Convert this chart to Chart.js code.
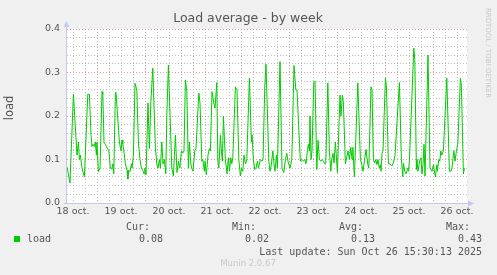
<!DOCTYPE html>
<html>
<head>
<meta charset="utf-8">
<script src="https://cdn.jsdelivr.net/npm/chart.js@4"></script>
<style>
    html, body { margin: 0; padding: 0; background: #f0f0f0; }
    canvas { display: block; }
</style>
</head>
<body>
<canvas id="loadChart" width="497" height="275"></canvas>
<script>
'use strict'

// Sample times, in hours since 18 oct 00:00.
const sampleHours = [
    9, 10.5, 12.2, 14, 14.7, 15.2, 15.7, 16.5, 17.7, 19.4, 20.2, 21, 21.5, 22, 22.7, 23.2, 23.7, 24, 24.7, 25.5,
    26.5, 26.9, 27.5, 28.2, 29, 29.9, 30.7, 31.4, 31.9, 32.4, 33.2, 33.5, 35.2, 36, 36.5, 36.9, 37.7, 38.2, 39, 39.4,
    39.9, 40.5, 41.2, 41.5, 42.2, 43, 43.9, 44.7, 45.5, 46.2, 46.9, 47.5, 47.9, 48.5, 49.5, 50.2, 50.9, 51.9, 53.2, 53.9,
    54.5, 55.2, 55.7, 56.4, 57, 57.7, 58.4, 58.9, 59.7, 61.4, 62.2, 63.2, 64, 64.7, 65.4, 66.2, 66.9, 67.5, 68.2, 68.9,
    69.7, 70.2, 70.9, 71.4, 72, 72.9, 73.5, 74.9, 75.5, 76.4, 76.9, 77.7, 78, 78.7, 79.5, 80.2, 80.7, 81.5, 82.4, 83,
    83.9, 84.4, 84.9, 85.7, 86.2, 86.7, 87.2, 88.2, 89, 89.7, 90.2, 90.9, 91.4, 91.9, 93.2, 94, 94.9, 95.7, 96.2, 96.9,
    97.5, 98.2, 98.9, 100.2, 101.2, 101.5, 102.2, 102.9, 103.5, 104.2, 104.7, 105.7, 106.4, 107, 107.9, 108.5, 109.9, 110.5, 111.2, 111.9,
    112.5, 113, 113.7, 114.2, 115.5, 116.5, 117.4, 118.2, 118.9, 119.5, 120.5, 121.4, 122.5, 123.4, 124, 125.2, 125.7, 126.5, 127.2, 127.9,
    128.5, 129.2, 129.7, 130.2, 130.5, 131, 131.5, 132.4, 133, 133.9, 134.5, 135.2, 135.9, 136.5, 137.2, 137.9, 138.4, 139.4, 140.2, 140.9,
    141.4, 142, 142.5, 143.2, 144.2, 145.5, 146, 146.7, 147.2, 148.2, 149.5, 150.2, 150.9, 151.5, 151.9, 152.7, 154.4, 155.7, 156.4, 157,
    157.7, 158.5, 159.4, 159.9, 161, 161.5, 162.2, 162.9, 163.4, 164, 164.5, 165.2, 165.7, 166, 166.5, 167, 168.2, 168.7, 169.7, 170.5,
    171.4, 172.2, 173, 175.2, 176.2, 176.9, 177.2, 177.9, 178.5, 179.4, 179.7, 180.2, 182.4, 182.9, 183.7, 184, 184.5, 185, 185.5, 186,
    186.5, 187, 187.5, 188, 189.5, 190.5, 191.5, 192.2, 193.2, 193.9, 194.2, 194.9, 195.4, 195.9, 196.4, 197.2, 198.9, 200.2, 201, 201.5,
    202.4, 203, 203.7, 204.4, 205.7, 206.2, 207.2, 207.7
];

// Load average.
const loadValues = [
    0.083, 0.046, 0.25, 0.11, 0.14, 0.10, 0.11, 0.08, 0.06, 0.25, 0.25, 0.157, 0.13, 0.135, 0.13, 0.14, 0.11, 0.14, 0.072, 0.08,
    0.256, 0.25, 0.14, 0.135, 0.127, 0.12, 0.08, 0.078, 0.09, 0.067, 0.254, 0.254, 0.14, 0.12, 0.145, 0.136, 0.11, 0.09, 0.075, 0.055,
    0.075, 0.072, 0.09, 0.08, 0.11, 0.275, 0.26, 0.14, 0.10, 0.08, 0.075, 0.067, 0.08, 0.065, 0.23, 0.125, 0.23, 0.31, 0.127, 0.09,
    0.08, 0.10, 0.08, 0.14, 0.09, 0.10, 0.067, 0.20, 0.317, 0.08, 0.062, 0.156, 0.07, 0.096, 0.08, 0.12, 0.115, 0.12, 0.283, 0.257,
    0.08, 0.14, 0.09, 0.08, 0.073, 0.12, 0.125, 0.253, 0.23, 0.096, 0.10, 0.073, 0.096, 0.065, 0.11, 0.125, 0.12, 0.256, 0.23, 0.218,
    0.277, 0.10, 0.08, 0.156, 0.12, 0.096, 0.20, 0.10, 0.067, 0.104, 0.073, 0.104, 0.09, 0.104, 0.267, 0.26, 0.10, 0.062, 0.08, 0.073,
    0.11, 0.09, 0.10, 0.287, 0.14, 0.157, 0.10, 0.077, 0.08, 0.096, 0.08, 0.10, 0.096, 0.10, 0.27, 0.319, 0.096, 0.073, 0.088, 0.12,
    0.09, 0.073, 0.11, 0.08, 0.325, 0.08, 0.07, 0.10, 0.114, 0.096, 0.08, 0.10, 0.316, 0.26, 0.26, 0.14, 0.096, 0.10, 0.096, 0.10,
    0.09, 0.12, 0.135, 0.12, 0.20, 0.10, 0.12, 0.277, 0.28, 0.077, 0.144, 0.10, 0.096, 0.10, 0.096, 0.09, 0.092, 0.276, 0.12, 0.073,
    0.10, 0.114, 0.092, 0.14, 0.07, 0.248, 0.20, 0.248, 0.23, 0.09, 0.12, 0.10, 0.128, 0.10, 0.128, 0.06, 0.276, 0.10, 0.088, 0.073,
    0.096, 0.123, 0.088, 0.08, 0.267, 0.26, 0.10, 0.092, 0.10, 0.088, 0.10, 0.08, 0.088, 0.073, 0.114, 0.12, 0.287, 0.27, 0.09, 0.09,
    0.085, 0.092, 0.11, 0.277, 0.10, 0.06, 0.092, 0.073, 0.067, 0.08, 0.073, 0.096, 0.356, 0.33, 0.077, 0.10, 0.073, 0.088, 0.10, 0.104,
    0.067, 0.088, 0.135, 0.062, 0.34, 0.08, 0.073, 0.088, 0.06, 0.088, 0.073, 0.10, 0.096, 0.12, 0.11, 0.12, 0.287, 0.073, 0.073, 0.08,
    0.12, 0.096, 0.12, 0.135, 0.287, 0.27, 0.067, 0.08
];

const dayLabels = ['18 oct.', '19 oct.', '20 oct.', '21 oct.', '22 oct.', '23 oct.', '24 oct.', '25 oct.', '26 oct.'];
const yTickLabels = ['0.0', '0.1', '0.2', '0.3', '0.4'];

const legendHeaders = ['Cur:', 'Min:', 'Avg:', 'Max:'];
const legendValues = ['0.08', '0.02', '0.13', '0.43'];

const TEXT_COLOR = '#555555';
const AXIS_COLOR = '#c4c8ee';
const MAJOR_GRID = '#e49a9a';
const MINOR_GRID = '#c0c0c0';

/**
 * Draws the gray page, the white plot area, the axes with arrows and the Munin texts.
 */
const muninFrame = {
    id: 'muninFrame',
    beforeDraw(chart) {
        const ctx = chart.ctx;
        const area = chart.chartArea;
        ctx.save();
        ctx.fillStyle = '#f0f0f0';
        ctx.fillRect(0, 0, chart.width, chart.height);
        ctx.fillStyle = '#ffffff';
        ctx.fillRect(area.left, area.top, area.right - area.left, area.bottom - area.top);
        ctx.restore();
    },
    afterDraw(chart) {
        const ctx = chart.ctx;
        const area = chart.chartArea;
        ctx.save();

        // Axes and arrows.
        ctx.strokeStyle = AXIS_COLOR;
        ctx.fillStyle = AXIS_COLOR;
        ctx.lineWidth = 1;
        ctx.beginPath();
        ctx.moveTo(area.left - 0.5, area.bottom + 0.5);
        ctx.lineTo(area.left - 0.5, area.top - 3);
        ctx.moveTo(area.left - 3, area.bottom + 0.5);
        ctx.lineTo(area.right + 3, area.bottom + 0.5);
        ctx.stroke();
        ctx.beginPath();
        ctx.moveTo(area.left - 3.5, area.top - 2);
        ctx.lineTo(area.left + 2.5, area.top - 2);
        ctx.lineTo(area.left - 0.5, area.top - 8);
        ctx.closePath();
        ctx.fill();
        ctx.beginPath();
        ctx.moveTo(area.right + 1, area.bottom - 2.5);
        ctx.lineTo(area.right + 1, area.bottom + 3.5);
        ctx.lineTo(area.right + 7, area.bottom + 0.5);
        ctx.closePath();
        ctx.fill();

        // Title.
        ctx.fillStyle = TEXT_COLOR;
        ctx.textAlign = 'center';
        ctx.textBaseline = 'middle';
        ctx.font = '12.5px "DejaVu Sans"';
        ctx.fillText('Load average - by week', 248, 19);

        // Vertical axis title.
        ctx.save();
        ctx.translate(10, 108);
        ctx.rotate(-Math.PI / 2);
        ctx.font = '11.5px "DejaVu Sans"';
        ctx.fillText('load', 0, 0);
        ctx.restore();

        // RRDtool credit on the right side.
        ctx.save();
        ctx.translate(488, 53);
        ctx.rotate(Math.PI / 2);
        ctx.fillStyle = '#c8c8c8';
        ctx.font = '7px "DejaVu Sans"';
        ctx.fillText('RRDTOOL / TOBI OETIKER', 0, 0);
        ctx.restore();

        // Legend.
        ctx.fillStyle = '#00cc00';
        ctx.fillRect(14, 236, 6, 6);
        ctx.fillStyle = TEXT_COLOR;
        ctx.font = '10px "DejaVu Sans Mono"';
        ctx.textAlign = 'left';
        ctx.fillText('load', 27, 239.5);

        const headerRight = [150, 256, 363, 470];
        const valueRight = [163, 269, 375, 482];
        ctx.textAlign = 'right';
        for (let i = 0; i < legendHeaders.length; i++) {
            ctx.fillText(legendHeaders[i], headerRight[i], 227.5);
            ctx.fillText(legendValues[i], valueRight[i], 239.5);
        }
        ctx.fillText('Last update: Sun Oct 26 15:30:13 2025', 482, 252);

        // Munin version.
        ctx.textAlign = 'center';
        ctx.fillStyle = '#c8c8c8';
        ctx.font = '8.5px "DejaVu Sans"';
        ctx.fillText('Munin 2.0.67', 248, 264);

        ctx.restore();
    }
};

function buildPoints() {
    let points = new Array();
    for (let i = 0; i < sampleHours.length; i++) {
        points.push({x: sampleHours[i], y: loadValues[i]});
    }
    return points;
}

const ctx = document.getElementById('loadChart').getContext('2d');
const loadChart = new Chart(ctx, {
    type: 'line',
    data: {
        datasets: [{
            label: 'load',
            data: buildPoints(),
            borderColor: '#00cc00',
            borderWidth: 1,
            pointRadius: 0,
            tension: 0,
            fill: false
        }]
    },
    options: {
        responsive: false,
        animation: false,
        devicePixelRatio: 1,
        layout: {
            padding: {top: 29, right: 30, left: 0, bottom: 0}
        },
        plugins: {
            legend: {display: false},
            title: {display: false},
            tooltip: {enabled: false}
        },
        scales: {
            x: {
                type: 'linear',
                min: 9,
                max: 209,
                afterBuildTicks: function(scale) {
                    let ticks = [];
                    for (let h = 12; h <= 204; h += 6) {
                        ticks.push({value: h});
                    }
                    scale.ticks = ticks;
                },
                afterFit: function(scale) {
                    scale.height = 72;
                },
                // Dotted grid lines.
                border: {display: false, dash: [1, 2]},
                grid: {
                    drawTicks: false,
                    lineWidth: 1,
                    color: (c) => (c.tick && c.tick.value % 24 === 0) ? MAJOR_GRID : MINOR_GRID
                },
                ticks: {
                    autoSkip: false,
                    maxRotation: 0,
                    padding: 3,
                    color: TEXT_COLOR,
                    font: {family: 'DejaVu Sans', size: 9.5},
                    callback: function(value) {
                        if (value % 24 === 12) {
                            return dayLabels[(value - 12) / 24];
                        }
                        return '';
                    }
                }
            },
            y: {
                min: 0,
                max: 0.4,
                afterBuildTicks: function(scale) {
                    let ticks = [];
                    for (let i = 0; i <= 20; i++) {
                        ticks.push({value: Math.round(i * 2) / 100});
                    }
                    scale.ticks = ticks;
                },
                afterFit: function(scale) {
                    scale.width = 67;
                },
                border: {display: false, dash: [1, 2]},
                grid: {
                    drawTicks: false,
                    lineWidth: 1,
                    color: (c) => {
                        if (!c.tick || c.tick.value === 0) return 'rgba(0,0,0,0)';
                        return (Math.round(c.tick.value * 100) % 10 === 0) ? MAJOR_GRID : MINOR_GRID;
                    }
                },
                ticks: {
                    autoSkip: false,
                    padding: 7,
                    color: TEXT_COLOR,
                    font: {family: 'DejaVu Sans', size: 9.5},
                    callback: function(value) {
                        let k = Math.round(value * 100);
                        if (k % 10 === 0) {
                            return yTickLabels[k / 10];
                        }
                        return '';
                    }
                }
            }
        }
    },
    plugins: [muninFrame]
});
</script>
</body>
</html>
